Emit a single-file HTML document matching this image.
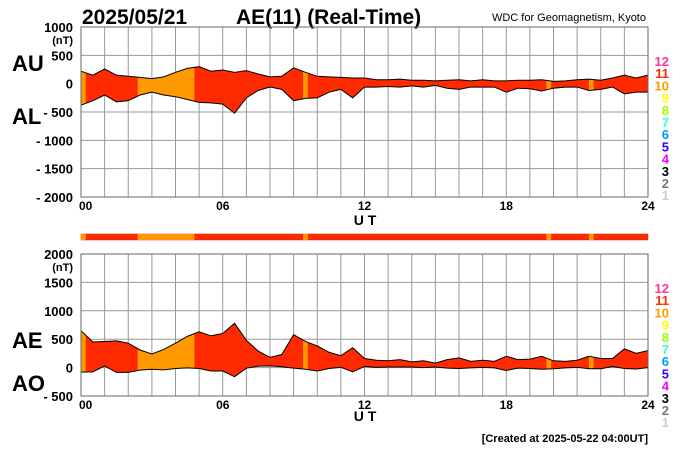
<!DOCTYPE html>
<html><head><meta charset="utf-8"><style>
body{margin:0;background:#fff;width:700px;height:450px;overflow:hidden}
svg{display:block;font-family:"Liberation Sans",sans-serif}
</style></head><body>
<svg id="c" width="700" height="450" viewBox="0 0 700 450">
<text x="82" y="24" font-size="21" font-weight="bold">2025/05/21</text>
<text x="236" y="24" font-size="21" font-weight="bold">AE(11) (Real-Time)</text>
<text x="646" y="21" font-size="11" text-anchor="end">WDC for Geomagnetism, Kyoto</text>
<text x="12" y="71" font-size="22" font-weight="bold">AU</text>
<text x="12" y="124" font-size="22" font-weight="bold">AL</text>
<text x="12" y="348" font-size="22" font-weight="bold">AE</text>
<text x="12" y="391" font-size="22" font-weight="bold">AO</text>
<text x="365" y="225" font-size="14" font-weight="bold" text-anchor="middle">U T</text>
<text x="365" y="421" font-size="14" font-weight="bold" text-anchor="middle">U T</text>
<text x="648" y="442" font-size="11" font-weight="bold" text-anchor="end">[Created at 2025-05-22 04:00UT]</text>
<g id="g"></g>
</svg>
<script>
const hours=[0,0.5,1,1.5,2,2.5,3,3.5,4,4.5,5,5.5,6,6.5,7,7.5,8,8.5,9,9.5,10,10.5,11,11.5,12,12.5,13,13.5,14,14.5,15,15.5,16,16.5,17,17.5,18,18.5,19,19.5,20,20.5,21,21.5,22,22.5,23,23.5,24];
const au=[220,150,260,150,130,110,90,120,200,270,300,220,240,200,230,170,120,130,280,200,130,120,110,100,100,70,70,80,60,60,50,60,70,50,70,50,50,60,60,70,40,50,70,80,60,100,150,100,150];
const al=[-380,-300,-200,-320,-300,-200,-150,-200,-230,-280,-330,-340,-360,-520,-250,-120,-60,-100,-300,-260,-250,-150,-100,-250,-60,-60,-50,-60,-40,-60,-30,-80,-100,-60,-60,-60,-150,-80,-90,-130,-80,-60,-60,-120,-100,-60,-180,-150,-150];
const ae=[650,450,460,470,430,310,240,320,430,550,630,560,600,780,480,290,180,230,580,460,380,270,210,350,160,130,120,140,100,120,80,140,170,110,130,110,200,140,150,200,120,110,130,200,160,160,330,250,300];
const ao=[-80,-75,30,-85,-85,-45,-30,-40,-15,-5,-15,-60,-60,-160,-10,25,30,15,-10,-30,-60,-15,5,-75,20,5,10,10,10,0,10,-10,-15,-5,5,-5,-50,-10,-15,-30,-20,-5,5,-20,-20,20,-15,-25,0];
const qStart=[0,2.4,9.4,19.7,21.5];
const qEnd=[0.2,4.8,9.6,19.9,21.7];
const topTicks=[1000,500,0,-500,-1000,-1500,-2000];
const botTicks=[2000,1500,1000,500,0,-500];
const xLabels=["00","06","12","18","24"];
const legendNums=["12","11","10","9","8","7","6","5","4","3","2","1"];
const legendCols=["#ff3399","#ff2a00","#ff9900","#ffff00","#99ff00","#33ffcc","#0099ff","#3300ff","#ff00ff","#000000","#777777","#cccccc"];
const NS="http://www.w3.org/2000/svg";
const g=document.getElementById('g');
const X0=81,X1=648;
const x=h=>X0+(X1-X0)*h/24;
function mk(t,a,p){const e=document.createElementNS(NS,t);for(const k in a)e.setAttribute(k,a[k]);(p||g).appendChild(e);return e;}
function panel(id,yTop,yBot,vMax,vMin,ticks,up,lo){
  const y=v=>yTop+(vMax-v)*(yBot-yTop)/(vMax-vMin);
  const pg=mk('g',{});
  
  
  for(let h=0;h<=24;h++){const l=mk('line',{x1:x(h),x2:x(h),y1:yTop,y2:yBot,stroke:'#999','stroke-width':1},pg);
    
    }
  ticks.forEach((t,i)=>{const l=mk('line',{x1:X0,x2:X1,y1:y(t),y2:y(t),stroke:'#999','stroke-width':1},pg);
    
    
    const tx=mk('text',{x:73,y:y(t)+5,'font-size':13,'font-weight':'bold','text-anchor':'end'},pg);
    tx.textContent=(t<0?'- '+(-t):String(t));
    
    
    if(i===0){const u=mk('text',{x:73,y:y(t)+17,'font-size':11,'font-weight':'bold','text-anchor':'end'},pg);u.textContent='(nT)';
      
      }
  });
  let d='M'+hours.map((h,i)=>x(h)+','+y(up[i])).join('L');
  d+='L'+hours.slice().reverse().map((h,i)=>x(h)+','+y(lo[lo.length-1-i])).join('L')+'Z';
  const f=mk('path',{d:d,fill:'#ff2a00'},pg);
  
  
  const cp=mk('clipPath',{id:'cp'+id},pg);
  qStart.forEach((s,i)=>mk('rect',{x:x(s),y:yTop,width:x(qEnd[i])-x(s),height:yBot-yTop},cp));
  const o=mk('path',{d:d,fill:'#ff9900','clip-path':'url(#cp'+id+')'},pg);
  
  
  [up,lo].forEach((arr,k)=>{const l=mk('path',{d:'M'+hours.map((h,i)=>x(h)+','+y(arr[i])).join('L'),fill:'none',stroke:'#000','stroke-width':1},pg);
    
    });
  mk('rect',{x:X0,y:yTop,width:X1-X0,height:yBot-yTop,fill:'none',stroke:'#666'},pg);
  xLabels.forEach((s,i)=>{const t=mk('text',{x:i===0?X0-2:x(i*6),y:yBot+13,'font-size':12,'font-weight':'bold','text-anchor':i===0?'start':'middle'},pg);t.textContent=s;
    
    });
  legendNums.forEach((s,i)=>{const t=mk('text',{x:669,y:yTop+39+i*12.2,'font-size':13,'font-weight':'bold','text-anchor':'end',fill:legendCols[i]},pg);t.textContent=s;
    
    });
}
panel('au-al',27,197,1000,-2000,topTicks,au,al);
panel('ae-ao',254,396,2000,-500,botTicks,ae,ao);
const bar=mk('rect',{x:X0,y:234,width:X1-X0,height:6,fill:'#ff2a00',stroke:'#c02000','stroke-width':0.5});


qStart.forEach((s,i)=>{const r=mk('rect',{x:x(s),y:234,width:x(qEnd[i])-x(s),height:6,fill:'#ff9900'});
  
  });
</script>
</body></html>
